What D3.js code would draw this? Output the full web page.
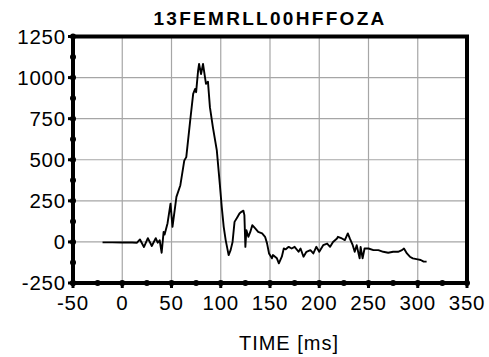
<!DOCTYPE html>
<html>
<head>
<meta charset="utf-8">
<script src="https://cdn.jsdelivr.net/npm/d3@7"></script>
<style>
  html, body { margin: 0; padding: 0; background: #fff; }
  svg { display: block; font-family: "Liberation Sans", Arial, sans-serif; }
</style>
</head>
<body>
<svg id="chart" width="489" height="357"></svg>
<script>
// Force trace vs time
const chartTitle = "13FEMRLL00HFFOZA";
const xLabel = "TIME [ms]";

const xTicks = [-50, 0, 50, 100, 150, 200, 250, 300, 350];
const yTicks = [-250, 0, 250, 500, 750, 1000, 1250];

const timeMs = [
  -20, -10, 0, 10, 15, 18, 22, 26, 30, 34, 36, 38, 40, 42, 43, 46, 49, 51, 55, 59,
  63, 65, 69, 72, 74, 75, 77, 78, 80, 82, 83, 85, 87, 89, 92, 96, 99, 101, 103, 105,
  108, 110, 112, 114, 117, 119, 121, 123, 124, 125, 126, 128, 130, 132, 135, 138, 142, 145, 147, 149,
  152, 153, 157, 159, 162, 164, 166, 169, 172, 175, 179, 181, 184, 187, 191, 194, 197, 200, 204, 208,
  211, 214, 218, 219, 223, 226, 229, 231, 234, 236, 238, 241, 242, 244, 246, 250, 255, 260, 265, 270,
  275, 280, 284, 286, 289, 292, 295, 300, 303, 306, 309
];
const forceN = [
  -3, -3, -4, -4, -5, 15, -31, 23, -25, 23, -5, 10, -66, 61, 45, 114, 233, 92, 274, 345,
  496, 516, 739, 901, 931, 911, 1042, 1083, 1022, 1083, 1042, 962, 975, 820, 698, 557, 355, 213, 92, 11,
  -80, -50, 0, 122, 152, 173, 183, 190, 163, -30, 72, 31, 61, 102, 82, 61, 52, 31, -9, -70,
  -100, -80, -100, -130, -90, -40, -45, -30, -40, -30, -60, -40, -90, -60, -50, -70, -30, -60, -20, -10,
  -30, 0, 21, 31, 21, 11, 52, 21, -20, -60, -20, -100, -30, -100, -40, -40, -50, -50, -60, -66,
  -60, -60, -50, -40, -70, -90, -100, -106, -110, -120, -120
];

const svg = d3.select("#chart");
const x = d3.scaleLinear().domain([-50, 350]).range([73, 467]);
const y = d3.scaleLinear().domain([-250, 1250]).range([283, 36.5]);

// grid
const grid = svg.append("g").attr("stroke", "#a6a6a6").attr("stroke-width", 1.2);
xTicks.slice(1, -1).forEach(t => {
  grid.append("line").attr("x1", x(t)).attr("x2", x(t)).attr("y1", y(1250)).attr("y2", y(-250));
});
yTicks.slice(1, -1).forEach(t => {
  grid.append("line").attr("x1", x(-50)).attr("x2", x(350)).attr("y1", y(t)).attr("y2", y(t));
});

// data line
const pts = timeMs.map((t, i) => [t, forceN[i]]);
svg.append("path")
  .datum(pts)
  .attr("fill", "none")
  .attr("stroke", "#000")
  .attr("stroke-width", 1.9)
  .attr("stroke-linejoin", "round")
  .attr("d", d3.line().x(d => x(d[0])).y(d => y(d[1])));

// frame
const frame = svg.append("g").attr("stroke", "#000").attr("stroke-width", 4).attr("fill", "none");
frame.append("path")
  .attr("d", `M${x(-50)},${y(-250)} V${y(1250)} H${x(350)} V${y(-250)} Z`);

// tick dots and stubs
const minorX = d3.range(-25, 350, 50);
const minorY = d3.range(-125, 1250, 250);
const ticks = svg.append("g").attr("fill", "#000");
xTicks.concat(minorX).forEach(t => {
  ticks.append("circle").attr("cx", x(t)).attr("cy", y(-250)).attr("r", 3);
});
yTicks.concat(minorY).forEach(t => {
  ticks.append("circle").attr("cx", x(-50)).attr("cy", y(t)).attr("r", 3);
});
xTicks.forEach(t => {
  svg.append("line").attr("x1", x(t)).attr("x2", x(t)).attr("y1", y(-250)).attr("y2", y(-250) + 5)
    .attr("stroke", "#000").attr("stroke-width", 3);
});
yTicks.forEach(t => {
  svg.append("line").attr("x1", x(-50) - 5).attr("x2", x(-50)).attr("y1", y(t)).attr("y2", y(t))
    .attr("stroke", "#000").attr("stroke-width", 3);
});

// tick labels
svg.append("g").selectAll("text").data(xTicks).join("text")
  .attr("x", d => x(d)).attr("y", 310)
  .attr("text-anchor", "middle")
  .attr("font-size", 20.5).attr("letter-spacing", 0.8)
  .text(d => d);
svg.append("g").selectAll("text").data(yTicks).join("text")
  .attr("x", 66).attr("y", d => y(d)).attr("dy", "0.36em")
  .attr("text-anchor", "end")
  .attr("font-size", 20.5).attr("letter-spacing", 0.8)
  .text(d => d);

// title and axis label
svg.append("text")
  .attr("x", 270).attr("y", 25)
  .attr("text-anchor", "middle")
  .attr("font-size", 19).attr("font-weight", "bold").attr("letter-spacing", 2.3)
  .text(chartTitle);
svg.append("text")
  .attr("x", 289).attr("y", 350)
  .attr("text-anchor", "middle")
  .attr("font-size", 20).attr("letter-spacing", 1)
  .text(xLabel);
</script>
</body>
</html>
